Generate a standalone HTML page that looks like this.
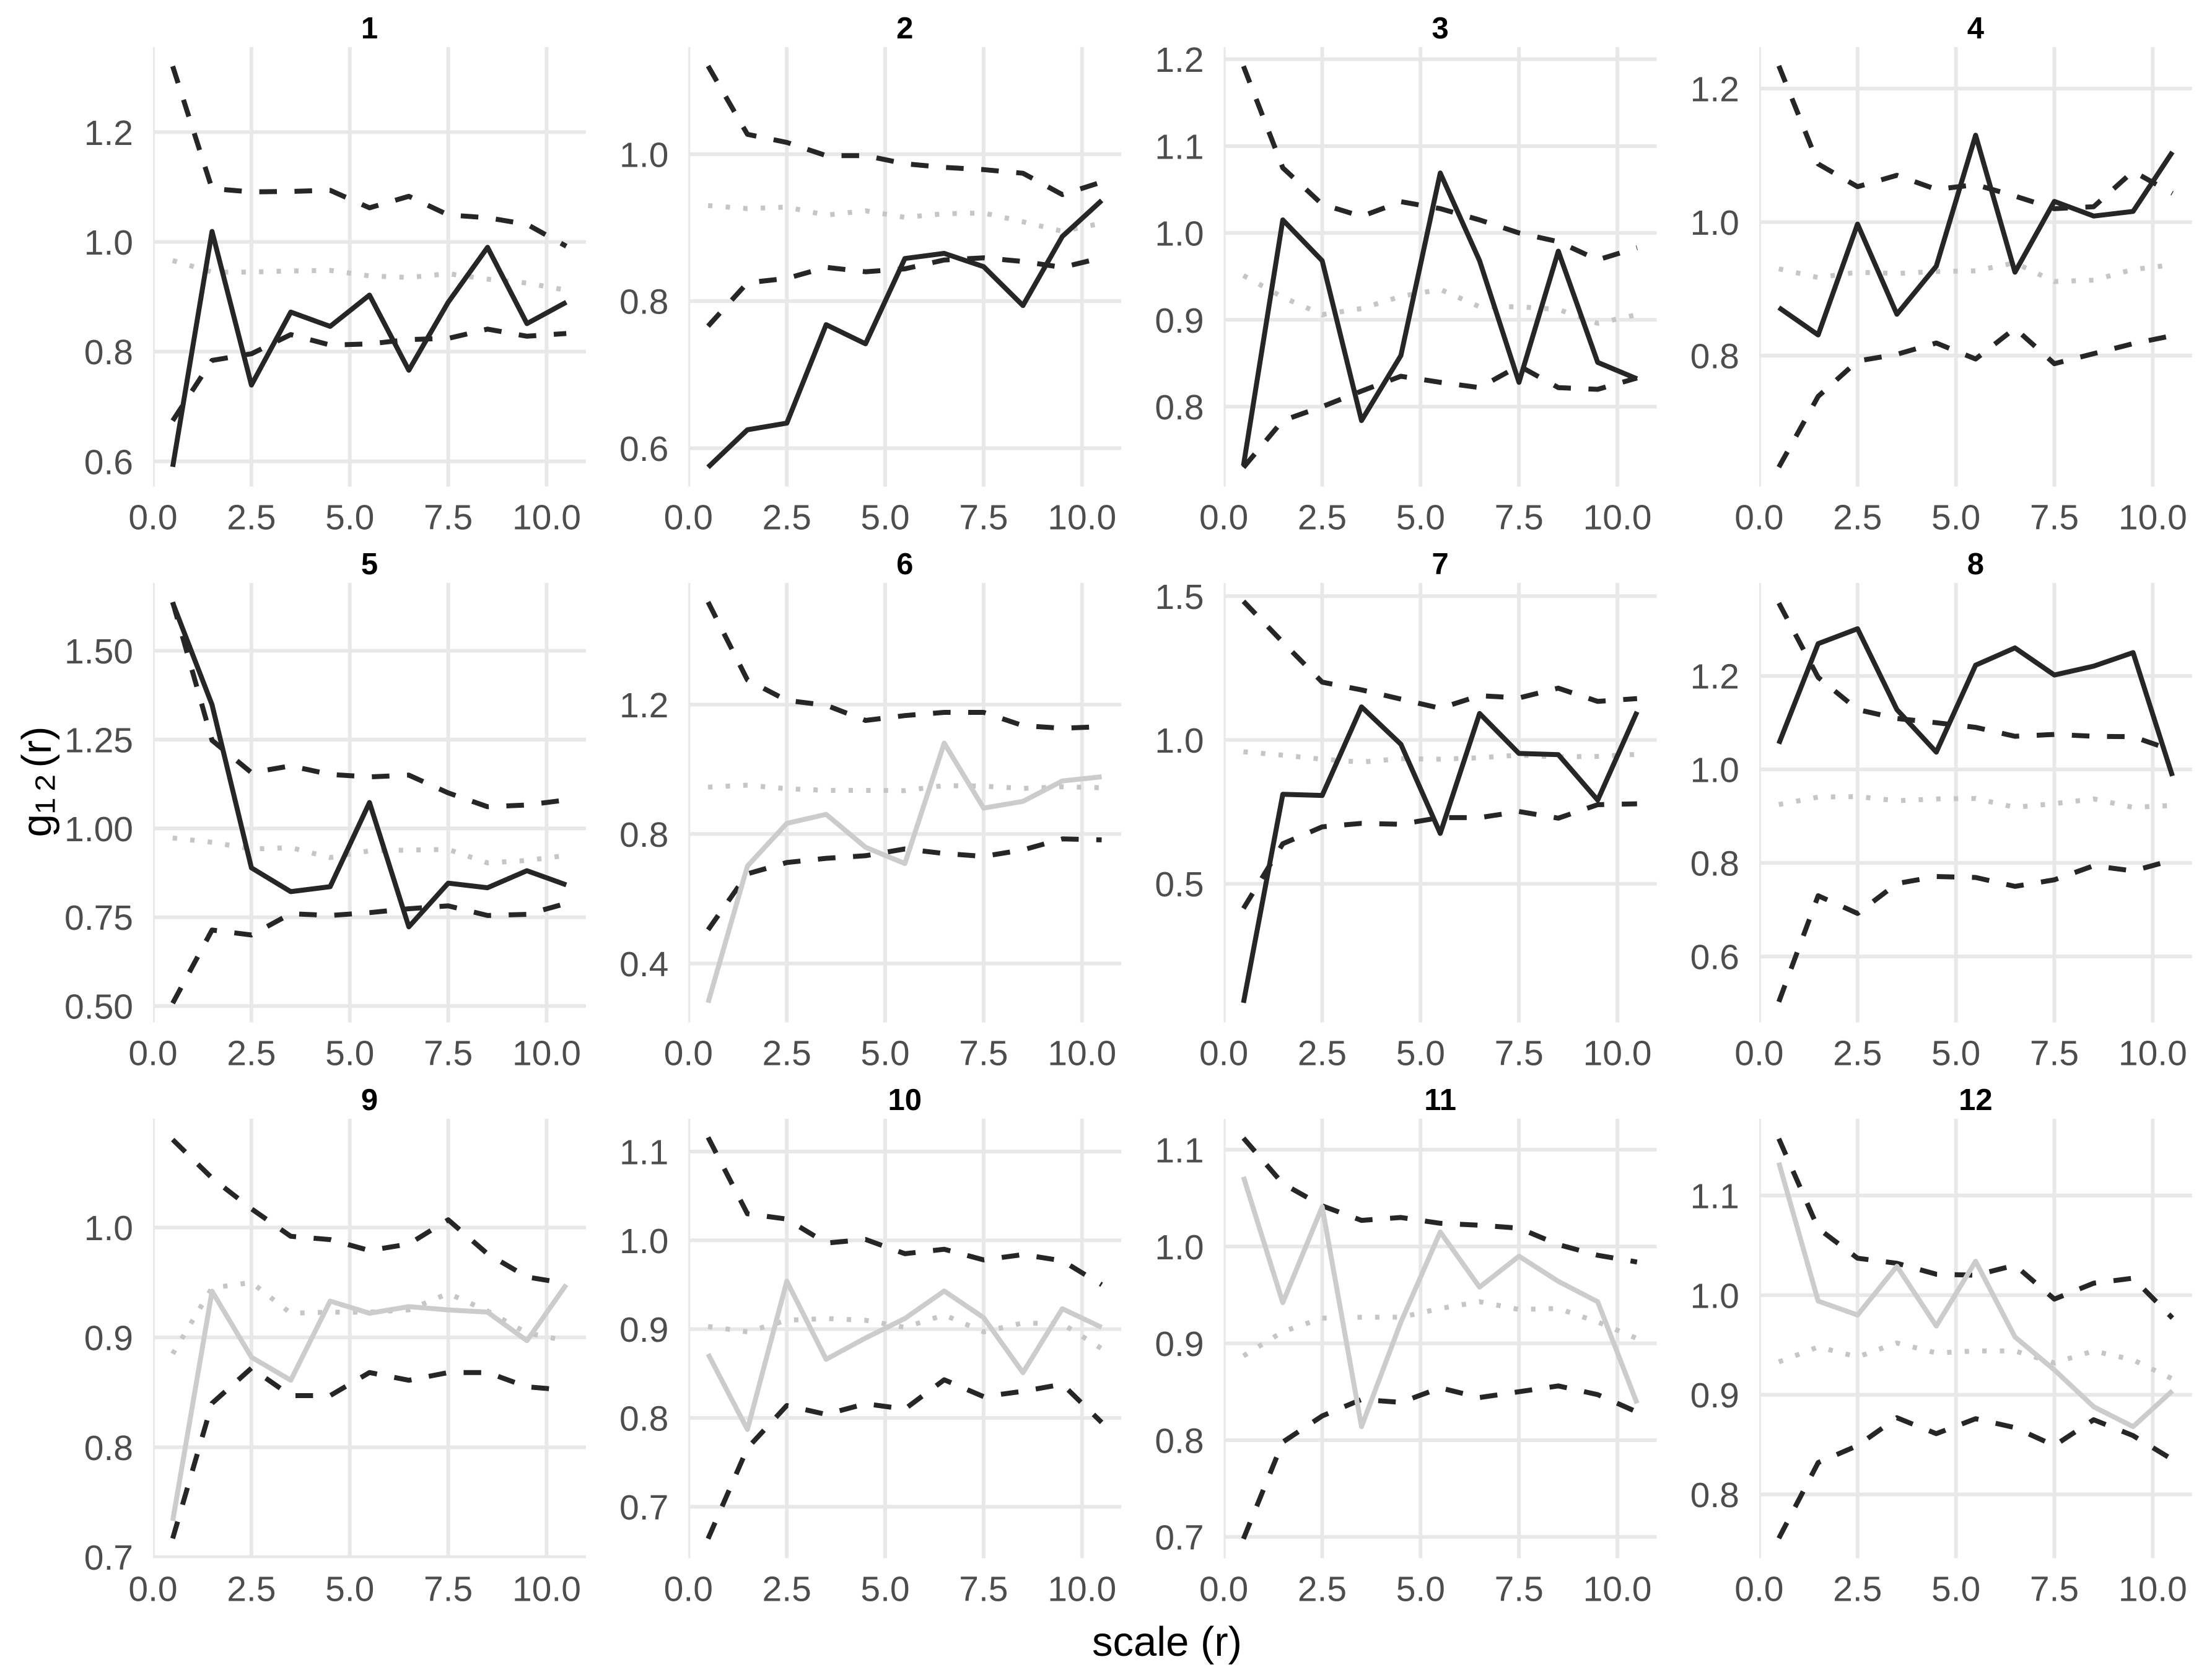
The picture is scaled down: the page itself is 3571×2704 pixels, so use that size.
<!DOCTYPE html>
<html lang="en">
<head>
<meta charset="utf-8">
<title>g12(r) by scale — 12 panels</title>
<style>
  html, body { margin: 0; padding: 0; background: #ffffff; }
  svg { display: block; }
  text { font-family: "Liberation Sans", Arial, sans-serif; }
</style>
</head>
<body>
<svg id="chart" xmlns="http://www.w3.org/2000/svg" width="3571" height="2704" viewBox="0 0 3571 2704">
  <rect x="0" y="0" width="3571" height="2704" fill="#ffffff"></rect>
  <text x="1884" y="2673" font-size="67" fill="#000000" text-anchor="middle">scale (r)</text>
  <text transform="translate(82,1262) rotate(-90)" font-size="67" fill="#000000" text-anchor="middle">g<tspan font-size="78" letter-spacing="9">₁₂</tspan>(r)</text>
</svg>
<script>
const panelNames = ['1','2','3','4','5','6','7','8','9','10','11','12'];
const scaleValues = [0.5,1.5,2.5,3.5,4.5,5.5,6.5,7.5,8.5,9.5,10.5];
const xTicks = [0,2.5,5,7.5,10];
const xTickLabels = ['0.0','2.5','5.0','7.5','10.0'];
const xDomain = [0,11];

const yDomains = [
  [0.554,1.355],[0.5477,1.1457],[0.708,1.214],[0.604,1.262],
  [0.454,1.691],[0.218,1.576],[0.018,1.546],[0.459,1.399],
  [0.699,1.099],[0.642,1.137],[0.678,1.132],[0.736,1.177]
];
const yTicks = [
  [0.6,0.8,1.0,1.2],[0.6,0.8,1.0],[0.8,0.9,1.0,1.1,1.2],[0.8,1.0,1.2],
  [0.5,0.75,1.0,1.25,1.5],[0.4,0.8,1.2],[0.5,1.0,1.5],[0.6,0.8,1.0,1.2],
  [0.7,0.8,0.9,1.0],[0.7,0.8,0.9,1.0,1.1],[0.7,0.8,0.9,1.0,1.1],[0.8,0.9,1.0,1.1]
];
const yTickLabels = [
  ['0.6','0.8','1.0','1.2'],['0.6','0.8','1.0'],['0.8','0.9','1.0','1.1','1.2'],['0.8','1.0','1.2'],
  ['0.50','0.75','1.00','1.25','1.50'],['0.4','0.8','1.2'],['0.5','1.0','1.5'],['0.6','0.8','1.0','1.2'],
  ['0.7','0.8','0.9','1.0'],['0.7','0.8','0.9','1.0','1.1'],['0.7','0.8','0.9','1.0','1.1'],['0.8','0.9','1.0','1.1']
];

const envelopeHigh = [
  [1.320,1.097,1.091,1.092,1.094,1.062,1.083,1.049,1.044,1.032,0.992],
  [1.120,1.027,1.016,0.998,0.998,0.987,0.982,0.979,0.974,0.945,0.962],
  [1.192,1.075,1.033,1.019,1.036,1.028,1.015,1.000,0.990,0.969,0.983],
  [1.234,1.087,1.053,1.070,1.049,1.056,1.039,1.020,1.023,1.076,1.043],
  [1.637,1.248,1.157,1.176,1.152,1.145,1.150,1.100,1.061,1.066,1.080],
  [1.517,1.276,1.213,1.198,1.151,1.166,1.176,1.176,1.135,1.127,1.132],
  [1.482,1.340,1.201,1.174,1.142,1.110,1.154,1.146,1.180,1.134,1.144],
  [1.356,1.197,1.128,1.109,1.100,1.090,1.071,1.075,1.071,1.070,1.041],
  [1.080,1.045,1.017,0.992,0.989,0.979,0.985,1.007,0.976,0.955,0.949],
  [1.116,1.030,1.024,0.997,1.001,0.985,0.990,0.978,0.984,0.977,0.950],
  [1.112,1.065,1.042,1.027,1.030,1.024,1.022,1.019,1.002,0.991,0.984],
  [1.157,1.067,1.037,1.032,1.021,1.020,1.030,0.996,1.012,1.017,0.977]
];
const envelopeLow = [
  [0.674,0.784,0.796,0.831,0.812,0.814,0.822,0.824,0.841,0.828,0.833],
  [0.766,0.825,0.831,0.846,0.840,0.844,0.856,0.859,0.854,0.846,0.859],
  [0.730,0.784,0.800,0.818,0.835,0.828,0.822,0.847,0.822,0.820,0.833],
  [0.633,0.739,0.792,0.802,0.819,0.795,0.841,0.788,0.803,0.818,0.830],
  [0.508,0.714,0.700,0.760,0.755,0.763,0.774,0.782,0.755,0.758,0.789],
  [0.504,0.677,0.712,0.725,0.733,0.754,0.740,0.731,0.751,0.785,0.782],
  [0.414,0.639,0.698,0.710,0.707,0.730,0.730,0.751,0.728,0.775,0.778],
  [0.503,0.730,0.692,0.756,0.771,0.769,0.750,0.764,0.794,0.783,0.806],
  [0.717,0.840,0.872,0.847,0.847,0.868,0.861,0.868,0.868,0.855,0.852],
  [0.664,0.766,0.814,0.804,0.816,0.810,0.843,0.824,0.830,0.838,0.795],
  [0.698,0.798,0.825,0.842,0.839,0.854,0.844,0.850,0.856,0.847,0.829],
  [0.756,0.832,0.849,0.877,0.861,0.876,0.867,0.849,0.875,0.859,0.835]
];
const envelopeMean = [
  [0.966,0.945,0.945,0.947,0.948,0.938,0.935,0.942,0.932,0.925,0.912],
  [0.930,0.926,0.928,0.917,0.923,0.914,0.919,0.920,0.908,0.895,0.906],
  [0.951,0.926,0.906,0.913,0.927,0.935,0.915,0.915,0.912,0.896,0.906],
  [0.930,0.917,0.925,0.923,0.926,0.927,0.939,0.911,0.913,0.929,0.936],
  [0.973,0.961,0.942,0.946,0.918,0.937,0.939,0.941,0.903,0.910,0.924],
  [0.945,0.951,0.940,0.935,0.935,0.934,0.950,0.948,0.941,0.946,0.943],
  [0.959,0.947,0.933,0.923,0.935,0.933,0.938,0.947,0.941,0.943,0.950],
  [0.925,0.941,0.942,0.933,0.937,0.938,0.919,0.927,0.937,0.919,0.923],
  [0.885,0.945,0.950,0.922,0.923,0.923,0.925,0.940,0.924,0.904,0.897],
  [0.903,0.897,0.910,0.912,0.910,0.902,0.916,0.897,0.907,0.906,0.878],
  [0.887,0.912,0.926,0.927,0.927,0.936,0.943,0.935,0.936,0.922,0.905],
  [0.933,0.948,0.938,0.952,0.942,0.944,0.944,0.932,0.944,0.935,0.916]
];
const observed = [
  [0.590,1.019,0.739,0.872,0.846,0.903,0.766,0.890,0.990,0.851,0.890],
  [0.574,0.625,0.634,0.768,0.742,0.858,0.865,0.847,0.794,0.888,0.937],
  [0.732,1.015,0.968,0.784,0.859,1.069,0.968,0.828,0.979,0.851,0.832],
  [0.872,0.831,0.997,0.862,0.934,1.130,0.925,1.031,1.009,1.016,1.105],
  [1.635,1.348,0.889,0.822,0.836,1.073,0.723,0.846,0.833,0.881,0.841],
  [0.279,0.701,0.833,0.861,0.759,0.709,1.081,0.880,0.901,0.964,0.977],
  [0.086,0.811,0.807,1.115,0.985,0.675,1.092,0.953,0.949,0.791,1.098],
  [1.055,1.269,1.301,1.128,1.037,1.223,1.260,1.202,1.221,1.250,0.986],
  [0.733,0.942,0.882,0.861,0.933,0.922,0.928,0.925,0.923,0.897,0.948],
  [0.872,0.787,0.954,0.866,0.890,0.912,0.943,0.913,0.851,0.923,0.902],
  [1.072,0.942,1.041,0.814,0.922,1.015,0.958,0.990,0.964,0.943,0.838],
  [1.133,0.994,0.980,1.029,0.969,1.034,0.958,0.925,0.888,0.868,0.904]
];
const panelsInsideEnvelope = ['6','9','10','11','12'];

const SVG_NS = 'http://www.w3.org/2000/svg';
const chart = document.getElementById('chart');
const PANEL_W = 699, PANEL_H = 709.5, COL_STEP = 864.3, ROW_STEP = 865, LEFT0 = 247, TOP0 = 76;
const DARK = '#262626', LIGHT = '#cccccc', DOT = '#c6c6c6', GRID = '#e8e8e8', TICK = '#4d4d4d';
const LW = 8;

function make(tag) { return document.createElementNS(SVG_NS, tag); }
function xAxis(left) { return v => left + (v - xDomain[0]) / (xDomain[1] - xDomain[0]) * PANEL_W; }
function yAxis(top, dom) { return v => top + PANEL_H - (v - dom[0]) / (dom[1] - dom[0]) * PANEL_H; }
function linePoints(xs, ys, sx, sy) { return xs.map((x, i) => sx(x).toFixed(1) + ',' + sy(ys[i]).toFixed(1)).join(' '); }
function styleLine(el, color, dash) {
  el.setAttribute('fill', 'none');
  el.setAttribute('stroke', color);
  el.setAttribute('stroke-width', LW);
  el.setAttribute('stroke-linejoin', 'round');
  el.setAttribute('stroke-linecap', 'butt');
  if (dash) el.setAttribute('stroke-dasharray', dash);
}

panelNames.forEach((name, p) => {
  const col = p % 4, row = Math.floor(p / 4);
  const left = LEFT0 + col * COL_STEP, top = TOP0 + row * ROW_STEP;
  const sx = xAxis(left), sy = yAxis(top, yDomains[p]);

  const g = make('g');
  
  
  chart.appendChild(g);

  const clip = make('clipPath');
  clip.setAttribute('id', 'clip-' + name);
  const clipRect = make('rect');
  clipRect.setAttribute('x', left);
  clipRect.setAttribute('y', top);
  clipRect.setAttribute('width', PANEL_W);
  clipRect.setAttribute('height', PANEL_H);
  clip.appendChild(clipRect);
  g.appendChild(clip);

  const title = make('text');
  
  
  title.setAttribute('x', left + PANEL_W / 2);
  title.setAttribute('y', top - 14);
  title.setAttribute('font-size', '49');
  title.setAttribute('font-weight', 'bold');
  title.setAttribute('fill', '#000000');
  title.setAttribute('text-anchor', 'middle');
  title.textContent = name;
  g.appendChild(title);

  const grid = make('g');
  
  
  grid.setAttribute('clip-path', 'url(#clip-' + name + ')');
  g.appendChild(grid);

  yTicks[p].forEach(v => {
    const l = make('line');
    
    
    l.setAttribute('x1', left);
    l.setAttribute('x2', left + PANEL_W);
    l.setAttribute('y1', sy(v));
    l.setAttribute('y2', sy(v));
    l.setAttribute('stroke', GRID);
    l.setAttribute('stroke-width', '6');
    grid.appendChild(l);
  });
  xTicks.forEach(v => {
    const l = make('line');
    
    
    l.setAttribute('x1', sx(v));
    l.setAttribute('x2', sx(v));
    l.setAttribute('y1', top);
    l.setAttribute('y2', top + PANEL_H);
    l.setAttribute('stroke', GRID);
    l.setAttribute('stroke-width', '6');
    grid.appendChild(l);
  });

  yTicks[p].forEach((v, i) => {
    const t = make('text');
    
    
    t.setAttribute('x', left - 32);
    t.setAttribute('y', sy(v) + 20.5);
    t.setAttribute('font-size', '57');
    t.setAttribute('fill', TICK);
    t.setAttribute('text-anchor', 'end');
    t.textContent = yTickLabels[p][i];
    g.appendChild(t);
  });
  xTicks.forEach((v, i) => {
    const t = make('text');
    
    
    t.setAttribute('x', sx(v));
    t.setAttribute('y', top + PANEL_H + 69);
    t.setAttribute('font-size', '57');
    t.setAttribute('fill', TICK);
    t.setAttribute('text-anchor', 'middle');
    t.textContent = xTickLabels[i];
    g.appendChild(t);
  });

  const hi = make('polyline');
  
  
  hi.setAttribute('points', linePoints(scaleValues, envelopeHigh[p], sx, sy));
  styleLine(hi, DARK, '28.4 28.4');
  g.appendChild(hi);

  const lo = make('polyline');
  
  
  lo.setAttribute('points', linePoints(scaleValues, envelopeLow[p], sx, sy));
  styleLine(lo, DARK, '28.4 28.4');
  g.appendChild(lo);

  const mean = make('polyline');
  
  
  mean.setAttribute('points', linePoints(scaleValues, envelopeMean[p], sx, sy));
  styleLine(mean, DOT, '7.1 21.3');
  g.appendChild(mean);

  const obs = make('polyline');
  
  
  obs.setAttribute('points', linePoints(scaleValues, observed[p], sx, sy));
  styleLine(obs, panelsInsideEnvelope.includes(name) ? LIGHT : DARK, null);
  g.appendChild(obs);
});
</script>
</body>
</html>
